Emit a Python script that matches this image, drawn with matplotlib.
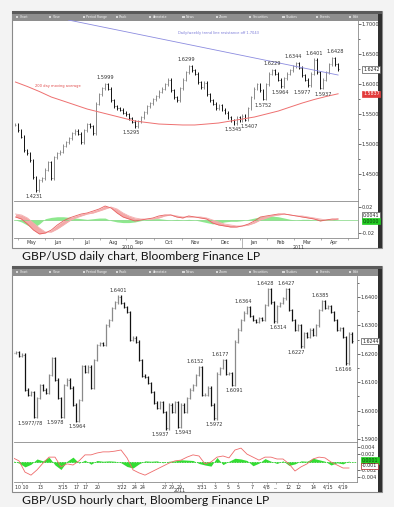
import numpy as np
import matplotlib
matplotlib.use('Agg')
import matplotlib.pyplot as plt
import matplotlib.transforms as mtransforms
from matplotlib.patches import Rectangle
from matplotlib.ticker import FormatStrFormatter

W, H = 394, 507

# ---------------- GBP/USD daily, Apr 2010 - Apr 2011 (one bar per ~2 sessions) ----------------
daily_close = [
    1.5317, 1.5233, 1.5117, 1.4900, 1.4850, 1.4733, 1.4450, 1.4231, 1.4400, 1.4433,
    1.4567, 1.4700, 1.4433, 1.4783, 1.4850, 1.4867, 1.4967, 1.5033, 1.5100, 1.5183,
    1.5217, 1.5167, 1.5033, 1.5233, 1.5333, 1.5300, 1.5183, 1.5667, 1.5833, 1.5933,
    1.5999, 1.5917, 1.5733, 1.5633, 1.5600, 1.5567, 1.5517, 1.5500, 1.5433, 1.5367,
    1.5295, 1.5383, 1.5450, 1.5533, 1.5633, 1.5683, 1.5750, 1.5800, 1.5867, 1.5917,
    1.6000, 1.6067, 1.5900, 1.5783, 1.5733, 1.5933, 1.6067, 1.6200, 1.6299, 1.6233,
    1.6167, 1.6033, 1.5950, 1.6017, 1.5833, 1.5733, 1.5667, 1.5600, 1.5650, 1.5567,
    1.5517, 1.5450, 1.5400, 1.5345, 1.5450, 1.5400, 1.5467, 1.5407, 1.5600, 1.5783,
    1.5917, 1.6000, 1.5900, 1.5752, 1.6000, 1.6167, 1.6229, 1.6167, 1.6067, 1.5964,
    1.6100, 1.6167, 1.6233, 1.6300, 1.6344, 1.6267, 1.6150, 1.6067, 1.5977, 1.6167,
    1.6401, 1.6200, 1.5937, 1.6067, 1.6200, 1.6333, 1.6428, 1.6333, 1.6242]
daily_ma200 = [  # every 4th bar
    1.6033, 1.5958, 1.5875, 1.5783, 1.5717, 1.5650, 1.5583, 1.5533, 1.5483, 1.5433,
    1.5383, 1.5358, 1.5333, 1.5325, 1.5317, 1.5317, 1.5333, 1.5350, 1.5383, 1.5417,
    1.5450, 1.5500, 1.5550, 1.5617, 1.5683, 1.5742, 1.5792, 1.5837]
daily_trend_at = [17.7, 108]
daily_trend = [1.7067, 1.6150]
daily_macd = [  # every 2nd bar
    0.0046, 0.0015, -0.0062, -0.0154, -0.0215, -0.0200, -0.0154, -0.0077, -0.0015, 0.0031,
    0.0062, 0.0092, 0.0108, 0.0138, 0.0169, 0.0215, 0.0185, 0.0108, 0.0046, 0.0015,
    -0.0015, 0.0000, 0.0015, 0.0031, 0.0062, 0.0077, 0.0077, 0.0046, 0.0031, 0.0062,
    0.0046, 0.0031, 0.0015, -0.0046, -0.0077, -0.0092, -0.0108, -0.0108, -0.0092, -0.0062,
    -0.0015, 0.0046, 0.0062, 0.0077, 0.0092, 0.0092, 0.0077, 0.0062, 0.0046, 0.0031,
    0.0015, -0.0015, 0.0000, 0.0015, 0.0015]
daily_signal = [
    0.0092, 0.0077, 0.0031, -0.0046, -0.0123, -0.0185, -0.0185, -0.0138, -0.0077, -0.0015,
    0.0031, 0.0062, 0.0092, 0.0108, 0.0138, 0.0169, 0.0200, 0.0169, 0.0108, 0.0062,
    0.0031, 0.0015, 0.0015, 0.0015, 0.0031, 0.0062, 0.0077, 0.0062, 0.0046, 0.0046,
    0.0046, 0.0046, 0.0031, 0.0000, -0.0031, -0.0062, -0.0077, -0.0092, -0.0092, -0.0077,
    -0.0046, 0.0000, 0.0031, 0.0062, 0.0077, 0.0092, 0.0077, 0.0062, 0.0062, 0.0046,
    0.0031, 0.0015, 0.0000, 0.0000, 0.0015]
daily_hist = [
    0.000, -0.003, -0.008, -0.012, -0.006, 0.002, 0.004, 0.005, 0.005, 0.004,
    0.003, 0.002, 0.001, 0.002, 0.003, 0.003, -0.001, -0.003, -0.004, -0.004,
    -0.003, -0.001, 0.001, 0.002, 0.002, 0.001, 0.000, 0.001, 0.000, 0.001,
    0.000, -0.002, -0.004, -0.006, -0.005, -0.003, -0.002, -0.002, -0.001, 0.001,
    0.003, 0.005, 0.006, 0.006, 0.005, 0.003, 0.001, 0.000, 0.001, 0.001,
    0.000, -0.001, 0.001, 0.001, 0.000]
daily_months = ['May', 'Jun', 'Jul', 'Aug', 'Sep', 'Oct', 'Nov', 'Dec', 'Jan', 'Feb', 'Mar', 'Apr']
daily_month_at = [5.3, 14.3, 24.0, 32.7, 41.3, 51.3, 60.3, 70.3, 79.7, 88.7, 97.7, 106.7]
daily_years = ['2010', '2011']
daily_year_at = [37.7, 94.7]
daily_year_split = 75.7
daily_notes = ['1.4231', '1.5999', '1.5295', '1.6299', '1.5345', '1.5407', '1.5752',
               '1.6229', '1.5964', '1.6344', '1.5977', '1.6401', '1.5937', '1.6428']
daily_note_at = [7, 30, 40, 58, 73, 77, 83, 86, 89, 94, 98, 100, 102, 106]
daily_note_side = ['lo', 'hi', 'lo', 'hi', 'lo', 'lo', 'lo', 'hi', 'lo', 'hi', 'lo', 'hi', 'lo', 'hi']

# ---------------- GBP/USD hourly, Mar 10 - Apr 19 2011 ----------------
hourly_close = [
    1.6203, 1.6206, 1.6192, 1.6196, 1.6073, 1.6055, 1.6065, 1.5977, 1.6044, 1.6090,
    1.6073, 1.6062, 1.6125, 1.6185, 1.6108, 1.6044, 1.5978, 1.6090, 1.6108, 1.6080,
    1.6020, 1.5964, 1.6037, 1.6157, 1.6136, 1.6154, 1.6080, 1.6178, 1.6231, 1.6238,
    1.6231, 1.6301, 1.6319, 1.6361, 1.6382, 1.6401, 1.6379, 1.6365, 1.6347, 1.6249,
    1.6256, 1.6242, 1.6178, 1.6122, 1.6118, 1.6097, 1.6065, 1.6027, 1.6009, 1.6030,
    1.5995, 1.5937, 1.6020, 1.5995, 1.6030, 1.5943, 1.6020, 1.5995, 1.6044, 1.6073,
    1.6090, 1.6125, 1.6152, 1.6055, 1.6055, 1.6080, 1.6020, 1.5972, 1.6129, 1.6150,
    1.6177, 1.6129, 1.6132, 1.6091, 1.6242, 1.6284, 1.6319, 1.6344, 1.6364, 1.6333,
    1.6319, 1.6312, 1.6326, 1.6319, 1.6372, 1.6428, 1.6382, 1.6314, 1.6368, 1.6379,
    1.6396, 1.6427, 1.6354, 1.6319, 1.6284, 1.6301, 1.6227, 1.6273, 1.6259, 1.6284,
    1.6266, 1.6301, 1.6354, 1.6385, 1.6361, 1.6368, 1.6347, 1.6319, 1.6284, 1.6291,
    1.6259, 1.6166, 1.6270, 1.6244]
hourly_macd = [  # every 2nd bar
    0.0011, 0.0003, -0.0027, -0.0035, -0.0021, -0.0003, 0.0013, 0.0013, -0.0013, -0.0005,
    -0.0008, 0.0003, 0.0019, 0.0019, 0.0024, 0.0027, 0.0027, 0.0029, 0.0032, 0.0011,
    -0.0021, -0.0029, -0.0035, -0.0027, -0.0019, -0.0011, -0.0003, 0.0003, 0.0005, 0.0013,
    0.0019, 0.0016, -0.0005, 0.0000, 0.0013, 0.0016, 0.0011, 0.0032, 0.0037, 0.0021,
    0.0013, 0.0005, 0.0013, 0.0013, 0.0008, 0.0008, -0.0005, -0.0024, -0.0013, -0.0005,
    0.0008, 0.0013, 0.0011, 0.0000, -0.0008, -0.0016, -0.0016]
hourly_hist = [
    0.0003, -0.0003, -0.0013, -0.0006, 0.0008, 0.0003, 0.0013, -0.0008, -0.0020, 0.0002,
    0.0013, -0.0003, 0.0005, -0.0006, 0.0004, 0.0002, 0.0003, 0.0002, -0.0002, -0.0012,
    -0.0016, -0.0005, 0.0003, 0.0002, 0.0003, -0.0002, 0.0002, 0.0003, 0.0006, 0.0005,
    0.0004, -0.0004, -0.0008, -0.0011, 0.0012, -0.0007, 0.0002, 0.0010, 0.0008, 0.0004,
    -0.0010, -0.0003, 0.0009, 0.0002, -0.0004, 0.0003, -0.0009, -0.0005, 0.0003, 0.0002,
    0.0010, 0.0006, 0.0002, -0.0008, -0.0002, -0.0005, 0.0003]
hourly_days = ['10 10', '13', '3/15', '17', '17', '20', '3/22', '24', '24', '27', '29', '29',
               '3/31', '3', '5', '5', '7', '4/8', '...', '12', '12', '14', '4/15', '4/19']
hourly_day_at = [3, 9, 16.7, 21.3, 24.3, 28.3, 36.3, 40.7, 43.3, 50.7, 53, 55.7,
                 63, 67.3, 71.7, 75, 79.7, 84.7, 87.7, 91.7, 95, 100, 105, 110]
hourly_year_at = 55.7
hourly_notes = ['1.5977/78', '1.5978', '1.5964', '1.6401', '1.5937', '1.5943', '1.6152',
                '1.5972', '1.6177', '1.6091', '1.6364', '1.6428', '1.6314', '1.6427',
                '1.6227', '1.6385', '1.6166']
hourly_note_at = [7, 16, 21, 35, 51, 55, 62, 67, 70, 73, 78, 85, 87, 91, 96, 103, 111]
hourly_note_side = ['lo', 'lo', 'lo', 'hi', 'lo', 'lo', 'hi', 'lo', 'hi', 'lo', 'hi', 'hi',
                    'lo', 'hi', 'lo', 'hi', 'lo']

# label nudges (points), layout only
daily_note_dx = [-1.5, 0, -3, -1.5, 0, 3, 0, 0, -0.5, -2, -4, 0, 2, 2]
hourly_note_dx = [-3, -4, 1, 0, -4, 3.5, -3, 0, -2, 1.5, -3, -2, 3, 0, -3.5, -1.5, -2]

tool_labels = ['Chart', 'View', 'Period Range', 'Track', 'Annotate', 'News', 'Zoom',
               'Securities', 'Studies', 'Events', 'Edit']

fig = plt.figure(figsize=(W / 100, H / 100), dpi=100)
fig.patch.set_facecolor('#f3f3f3')
bg = fig.add_axes([0, 0, 1, 1], zorder=0)
bg.set_xlim(0, W)
bg.set_ylim(H, 0)
bg.axis('off')

LABEL = dict(fontsize=3.6, color='#333333')


def px_axes(x0, y0, x1, y1):
    return fig.add_axes([x0 / W, 1 - y1 / H, (x1 - x0) / W, (y1 - y0) / H], zorder=2)


def panel(top, bottom):
    bg.add_patch(Rectangle((12, top), 370, bottom - top, fc='white', ec='#8a8a8a', lw=0.8))
    bg.add_patch(Rectangle((378, top), 4, bottom - top, fc='#303030', ec='none'))
    bg.add_patch(Rectangle((12, top), 370, 2.5, fc='#5a5a5a', ec='none'))
    bg.add_patch(Rectangle((12, top + 2.5), 366, 7, fc='#8e8e8e', ec='none'))
    for k, lab in enumerate(tool_labels):
        x = 16 + k * 33.3
        bg.add_patch(Rectangle((x, top + 4.5), 2.2, 2.2, fc='#d8d8d8', ec='none'))
        bg.text(x + 3.5, top + 6, lab, fontsize=2.3, color='#f2f2f2', va='center')


def draw_bars(ax, close, wick, lw):
    c = np.asarray(close)
    o = np.r_[c[0], c[:-1]]
    x = np.arange(len(c))
    up = c >= o
    for m, col in ((up, '#8a8a8a'), (~up, '#111111')):
        ax.vlines(x[m], np.minimum(o, c)[m] - wick, np.maximum(o, c)[m] + wick, color=col, lw=lw)
        ax.hlines(o[m], x[m] - 0.3, x[m], color=col, lw=0.5)
        ax.hlines(c[m], x[m], x[m] + 0.3, color=col, lw=0.5)


def notes(ax, close, texts, at, side, dx, dy):
    for t, i, s, d in zip(texts, at, side, dx):
        up = s == 'hi'
        ax.annotate(t, (i, close[i]), xytext=(d, dy if up else -dy), textcoords='offset points',
                    ha='center', va='bottom' if up else 'top', **LABEL)


def right_axis(ax, major, minor, fmt):
    ax.yaxis.tick_right()
    ax.set_yticks(major)
    if minor is not None:
        ax.set_yticks(minor, minor=True)
    ax.yaxis.set_major_formatter(FormatStrFormatter(fmt))
    ax.tick_params(axis='y', which='major', labelsize=3.6, length=2, width=0.5,
                   colors='#333333', pad=0.6)
    ax.tick_params(axis='y', which='minor', length=1.2, width=0.5, colors='#333333')
    for s in ['left', 'top']:
        ax.spines[s].set_visible(False)
    for s in ['right', 'bottom']:
        ax.spines[s].set_color('#8a8a8a')
        ax.spines[s].set_linewidth(0.6)
    ax.set_facecolor('none')


def box(ax, y, txt, fc, ec, tc):
    tr = mtransforms.blended_transform_factory(ax.transAxes, ax.transData)
    ax.text(1.015, y, txt, transform=tr, ha='left', va='center', fontsize=3.4, color=tc,
            bbox=dict(boxstyle='square,pad=0.15', fc=fc, ec=ec, lw=0.5), zorder=6, clip_on=False)


# ======================= daily chart =======================
panel(11, 248)
ax = px_axes(14, 20, 358, 201)
ax.set_xlim(-0.5, 114.67)
ax.set_ylim(1.405, 1.7067)
right_axis(ax, np.arange(1.45, 1.701, 0.05), np.arange(1.425, 1.70, 0.05), '%.4f')
ax.set_xticks([])
draw_bars(ax, daily_close, 0.0025, 0.7)
ax.plot(np.arange(0, len(daily_close), 4), daily_ma200, color='#ee7070', lw=0.7)
ax.plot(daily_trend_at, daily_trend, color='#8c8ce0', lw=0.6)
notes(ax, daily_close, daily_notes, daily_note_at, daily_note_side, daily_note_dx, 3)
box(ax, daily_close[-1], '1.6242', 'white', '#555555', '#222222')
box(ax, daily_ma200[-1], '1.5837', '#e23b3b', '#e23b3b', 'white')
bg.text(35, 86, '200 day moving average', fontsize=2.6, color='#e04848', va='center')
bg.text(178, 33, 'Daily/weekly trend line resistance off 1.7043', fontsize=2.6,
        color='#7a7ad8', va='center')

am = px_axes(14, 201, 358, 238)
am.set_xlim(-0.5, 114.67)
am.set_ylim(-0.0277, 0.0292)
right_axis(am, [-0.02, 0.02], None, '%.2f')
xm = np.arange(0, len(daily_close), 2)
am.fill_between(xm, 0, daily_hist, color='#8ee88e', lw=0)
am.axhline(0, color='#7fd67f', lw=0.5)
am.fill_between(xm, daily_macd, daily_signal, color='#f4a8a8', lw=0)
am.plot(xm, daily_signal, color='#f3b0b0', lw=0.6)
am.plot(xm, daily_macd, color='#e86060', lw=0.6)
box(am, 0.0068, '0.0041', 'white', '#555555', '#222222')
box(am, -0.0016, '0.0000', '#22cc22', '#22cc22', '#104010')
bounds = np.r_[daily_month_at[0] - 4.5,
               (np.array(daily_month_at[1:]) + np.array(daily_month_at[:-1])) / 2,
               daily_month_at[-1] + 4.5]
am.set_xticks(bounds)
am.set_xticklabels([])
am.set_xticks(daily_month_at, minor=True)
am.set_xticklabels(daily_months, minor=True)
am.tick_params(axis='x', which='major', length=1.5, width=0.4, colors='#777777')
am.tick_params(axis='x', which='minor', length=0, labelsize=3.4, labelcolor='#333333', pad=1.2)
trx = mtransforms.blended_transform_factory(am.transData, am.transAxes)
for t, p in zip(daily_years, daily_year_at):
    am.text(p, -0.2, t, transform=trx, ha='center', va='top', fontsize=3.4, color='#333333')
am.plot([daily_year_split] * 2, [0, -0.27], transform=trx, color='#999999', lw=0.5,
        clip_on=False)

bg.text(22, 257, 'GBP/USD daily chart, Bloomberg Finance LP', fontsize=8.7,
        family=['Lato', 'DejaVu Sans'], color='#141414', va='center')

# ======================= hourly chart =======================
panel(266, 492)
bx = px_axes(14, 276, 357, 442)
bx.set_xlim(0.33, 114.67)
bx.set_ylim(1.5889, 1.6474)
right_axis(bx, np.arange(1.59, 1.6401, 0.01), np.arange(1.595, 1.645, 0.01), '%.4f')
bx.set_xticks([])
draw_bars(bx, hourly_close, 0.0005, 0.9)
notes(bx, hourly_close, hourly_notes, hourly_note_at, hourly_note_side, hourly_note_dx, 2.5)
box(bx, hourly_close[-1], '1.6244', 'white', '#555555', '#222222')

bm = px_axes(14, 442, 357, 482)
bm.set_xlim(0.33, 114.67)
bm.set_ylim(-0.00533, 0.00533)
right_axis(bm, [-0.004, -0.002, 0.002, 0.004], None, '%.3f')
xh = np.arange(0, len(hourly_close), 2)
bm.fill_between(xh, 0, hourly_hist, color='#33dd33', lw=0)
bm.axhline(0, color='#33cc33', lw=0.6, ls=(0, (2, 1)))
bm.plot(xh, hourly_macd, color='#ee6a6a', lw=0.6)
box(bm, 0.0004, '0.0001', '#22cc22', '#22cc22', '#104010')
box(bm, -0.0010, '-0.001', 'white', '#aa2020', '#222222')
bm.set_xticks(hourly_day_at)
bm.set_xticklabels(hourly_days)
bm.tick_params(axis='x', length=1.2, width=0.4, colors='#777777', labelsize=3.4,
               labelcolor='#333333', pad=0.8)
trh = mtransforms.blended_transform_factory(bm.transData, bm.transAxes)
bm.text(hourly_year_at, -0.16, '2011', transform=trh, ha='center', va='top', fontsize=3.4,
        color='#333333')

bg.text(22, 500, 'GBP/USD hourly chart, Bloomberg Finance LP', fontsize=8.7,
        family=['Lato', 'DejaVu Sans'], color='#141414', va='center')

fig.savefig('out.png', dpi=100, facecolor=fig.get_facecolor())
